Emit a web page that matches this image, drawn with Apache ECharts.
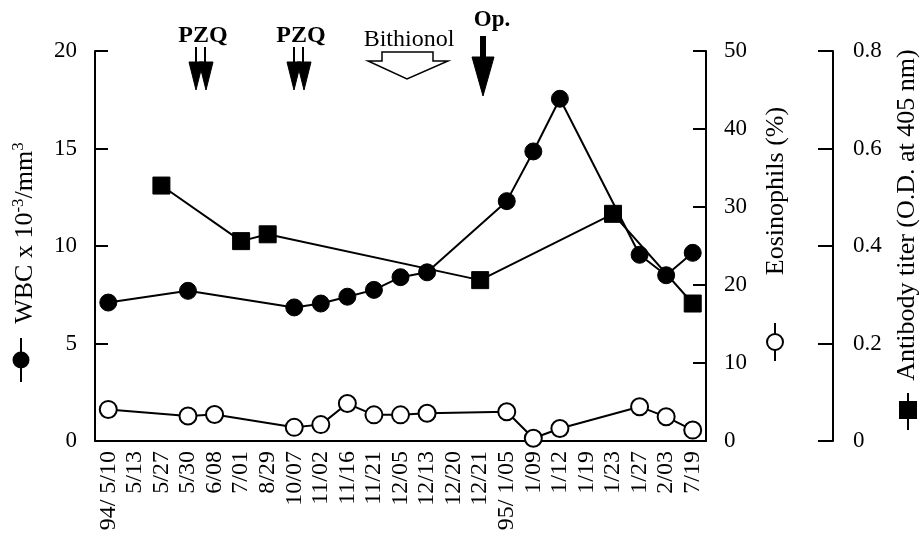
<!DOCTYPE html>
<html>
<head>
<meta charset="utf-8">
<script src="https://cdn.jsdelivr.net/npm/echarts@6/dist/echarts.min.js"></script>
<style>
html,body{margin:0;padding:0;background:#fff;}
#c{width:923px;height:543px;}
</style>
</head>
<body>
<div id="c"></div>
<script>
const categories = ['94/ 5/10','5/13','5/27','5/30','6/08','7/01','8/29','10/07','11/02','11/16','11/21','12/05','12/13','12/20','12/21','95/ 1/05','1/09','1/12','1/19','1/23','1/27','2/03','7/19'];
const wbc = [7.1,null,null,7.7,null,null,null,6.85,7.05,7.4,7.75,8.4,8.65,null,null,12.3,14.85,17.55,null,null,9.55,8.5,9.65];
const eosinophils = [4.05,null,null,3.2,3.4,null,null,1.75,2.1,4.8,3.35,3.35,3.55,null,null,3.75,0.35,1.6,null,null,4.4,3.1,1.4];
const antibody = [null,null,0.524,null,null,0.41,0.424,null,null,null,null,null,null,null,0.33,null,null,null,null,0.466,null,null,0.282];
const wbcAxis = {min: 0, max: 20, interval: 5};
const eosAxis = {min: 0, max: 50, interval: 10};
const abAxis = {min: 0, max: 0.8, interval: 0.2};

const F = 'Liberation Serif';
const chart = echarts.init(document.getElementById('c'));

function yAx(cfg, extra) {
  return Object.assign({
    type: 'value', min: cfg.min, max: cfg.max, interval: cfg.interval,
    splitLine: {show: false},
    axisLine: {show: true, lineStyle: {color: '#000', width: 2}},
    axisTick: {show: true, inside: true, length: 13, lineStyle: {color: '#000', width: 2}},
    axisLabel: {color: '#000', fontFamily: F, fontSize: 23, margin: 18}
  }, extra);
}

const blackPoly = pts => ({type: 'polygon', shape: {points: pts}, style: {fill: '#000', stroke: '#000', lineWidth: 1}});
const seg = (x1, y1, x2, y2) => ({type: 'line', shape: {x1, y1, x2, y2}, style: {stroke: '#000', lineWidth: 2}});
const txt = (x, y, text, size, bold) => ({type: 'text', x, y, style: {text, fontFamily: F, fontSize: size, fontWeight: bold ? 'bold' : 'normal', fill: '#000', align: 'center', verticalAlign: 'middle'}});

function doubleArrow(cx) {
  return [
    seg(cx - 5, 47, cx - 5, 62), seg(cx + 4, 47, cx + 4, 62),
    blackPoly([[cx - 12, 62], [cx + 2, 62], [cx - 5, 90]]),
    blackPoly([[cx - 2, 62], [cx + 12, 62], [cx + 5, 90]])
  ];
}

const graphics = [
  txt(203, 36, 'PZQ', 24, true),
  txt(301, 36, 'PZQ', 24, true),
  ...doubleArrow(201),
  ...doubleArrow(299),
  txt(409, 40, 'Bithionol', 24, false),
  {type: 'polygon', shape: {points: [[382,52],[433,52],[433,61],[448,61],[407,79],[368,61],[382,61]]}, style: {fill: '#fff', stroke: '#000', lineWidth: 1.5}},
  txt(492, 20, 'Op.', 23, true),
  {type: 'rect', shape: {x: 480, y: 36, width: 6, height: 22}, style: {fill: '#000'}},
  blackPoly([[472, 57], [494, 57], [483, 96]]),
  // axis titles
  {type: 'text', x: 25, y: 233, rotation: Math.PI / 2, style: {
    text: '{a|WBC x 10}{s|-3}{a|/mm}{s|3}', align: 'center', verticalAlign: 'middle',
    rich: {a: {fontFamily: F, fontSize: 26, fill: '#000', lineHeight: 30}, s: {fontFamily: F, fontSize: 17, fill: '#000', verticalAlign: 'top', lineHeight: 30}}
  }},
  seg(21, 338, 21, 382),
  {type: 'circle', shape: {cx: 21, cy: 360, r: 8.5}, style: {fill: '#000'}},
  {type: 'text', x: 776, y: 191, rotation: Math.PI / 2, style: {text: 'Eosinophils (%)', fontFamily: F, fontSize: 26, fill: '#000', align: 'center', verticalAlign: 'middle'}},
  seg(775, 323, 775, 361),
  {type: 'circle', shape: {cx: 775, cy: 342, r: 8}, style: {fill: '#fff', stroke: '#000', lineWidth: 2}},
  {type: 'text', x: 907, y: 215, rotation: Math.PI / 2, style: {text: 'Antibody titer (O.D. at 405 nm)', fontFamily: F, fontSize: 26, fill: '#000', align: 'center', verticalAlign: 'middle'}},
  seg(908, 393, 908, 430),
  {type: 'rect', shape: {x: 899, y: 401, width: 18, height: 18}, style: {fill: '#000'}}
];

const lineBase = {
  type: 'line', connectNulls: true, animation: false,
  lineStyle: {color: '#000', width: 2},
  itemStyle: {color: '#000', borderColor: '#000'}
};

chart.setOption({
  animation: false,
  backgroundColor: '#fff',
  grid: {left: 95, right: 217, top: 51, bottom: 102},
  xAxis: {
    type: 'category', data: categories, boundaryGap: true,
    axisLine: {lineStyle: {color: '#000', width: 2}},
    axisTick: {inside: true, length: 12, alignWithLabel: true, interval: 0, lineStyle: {color: '#000', width: 2}},
    axisLabel: {rotate: 90, interval: 0, color: '#000', fontFamily: F, fontSize: 24, margin: 10},
    splitLine: {show: false}
  },
  yAxis: [
    yAx(wbcAxis, {position: 'left'}),
    yAx(eosAxis, {position: 'right'}),
    yAx(abAxis, {position: 'right', offset: 127, axisTick: {show: true, inside: true, length: 15, lineStyle: {color: '#000', width: 2}}, axisLabel: {color: '#000', fontFamily: F, fontSize: 23, margin: 20}})
  ],
  series: [
    Object.assign({}, lineBase, {name: 'WBC', yAxisIndex: 0, data: wbc, symbol: 'circle', symbolSize: 17}),
    Object.assign({}, lineBase, {name: 'Eosinophils', yAxisIndex: 1, data: eosinophils, symbol: 'emptyCircle', symbolSize: 17, itemStyle: {color: '#000', borderColor: '#000', borderWidth: 2}}),
    Object.assign({}, lineBase, {name: 'Antibody', yAxisIndex: 2, data: antibody, symbol: 'rect', symbolSize: 17})
  ],
  graphic: graphics
});
</script>
</body>
</html>
